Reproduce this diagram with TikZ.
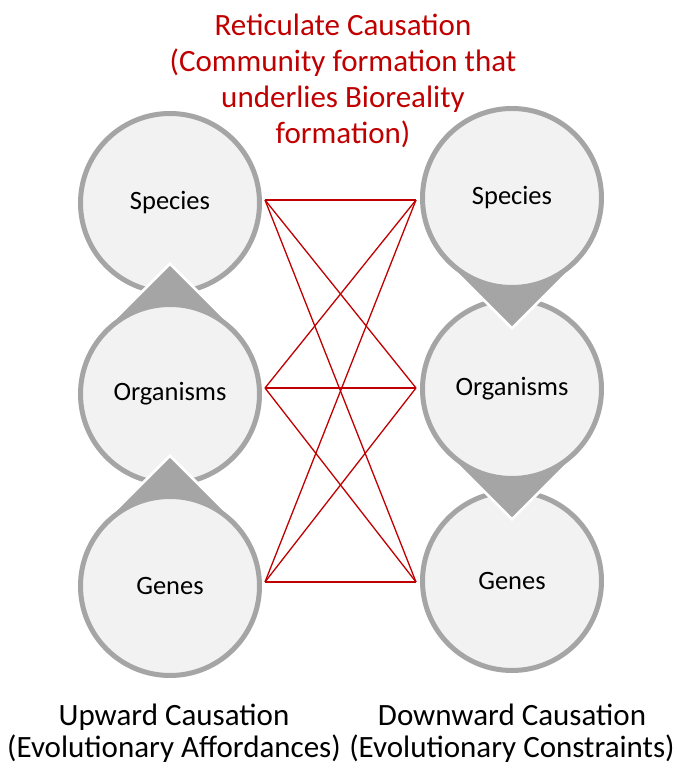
\documentclass[tikz,border=0pt]{standalone}
\usepackage{fontspec}
\setmainfont{Carlito}
\usetikzlibrary{calc}
\definecolor{ringgray}{HTML}{A5A5A5}
\definecolor{lightfill}{HTML}{F2F2F2}
\definecolor{redline}{HTML}{C00000}
\tikzset{
  bubble/.style={circle, fill=lightfill, draw=ringgray, line width=5pt, minimum size=179pt, inner sep=0pt, font=\fontsize{26.5}{30}\selectfont},
  tipfill/.style={fill=ringgray, draw=white, line width=2.5pt, line join=miter},
  link/.style={draw=redline, line width=1.3pt},
  bigtext/.style={align=center, font=\fontsize{31}{36}\selectfont, inner sep=0pt}
}
\begin{document}
\begin{tikzpicture}[x=1pt,y=1pt]
\useasboundingbox (0,0) rectangle (686,765);
% Left column (upward)
\node[bubble] (ls) at (170,562) {Species};
\fill[tipfill] (170,371) ++(45:92) -- (170,501.1) -- ($(170,371)+(135:92)$) arc[start angle=135, end angle=405, radius=92] -- cycle;
\draw[tipfill] (170,371) ++(45:92) -- (170,501.1) -- ($(170,371)+(135:92)$);
\node[bubble] (lo) at (170,371) {Organisms};
\fill[tipfill] (170,179) ++(45:92) -- (170,309.1) -- ($(170,179)+(135:92)$) arc[start angle=135, end angle=405, radius=92] -- cycle;
\draw[tipfill] (170,179) ++(45:92) -- (170,309.1) -- ($(170,179)+(135:92)$);
\node[bubble] (lg) at (170,179) {Genes};
% Right column (downward)
\node[bubble] (rg) at (512,184) {Genes};
\fill[tipfill] (512,376) ++(-45:92) -- (512,245.9) -- ($(512,376)+(-135:92)$) arc[start angle=-135, end angle=-405, radius=92] -- cycle;
\draw[tipfill] (512,376) ++(-45:92) -- (512,245.9) -- ($(512,376)+(-135:92)$);
\node[bubble] (ro) at (512,376) {Organisms};
\fill[tipfill] (512,567) ++(-45:92) -- (512,436.9) -- ($(512,567)+(-135:92)$) arc[start angle=-135, end angle=-405, radius=92] -- cycle;
\draw[tipfill] (512,567) ++(-45:92) -- (512,436.9) -- ($(512,567)+(-135:92)$);
\node[bubble] (rs) at (512,567) {Species};
% Red reticulate links
\coordinate (a1) at (265,565);
\coordinate (a2) at (265,377);
\coordinate (a3) at (265,183);
\coordinate (b1) at (416,565);
\coordinate (b2) at (416,377);
\coordinate (b3) at (416,183);
\foreach \i in {1,2,3}{\foreach \j in {1,2,3}{\draw[link] (a\i) -- (b\j);}}
% Texts
\node[bigtext, text=redline] (title) at (343,684) {Reticulate Causation\\(Community formation that\\underlies Bioreality\\formation)};
\node[bigtext, font=\fontsize{31}{32}\selectfont] (up) at (174,32) {Upward Causation\\(Evolutionary Affordances)};
\node[bigtext, font=\fontsize{31}{32}\selectfont] (down) at (512,32) {Downward Causation\\(Evolutionary Constraints)};
\end{tikzpicture}
\end{document}
